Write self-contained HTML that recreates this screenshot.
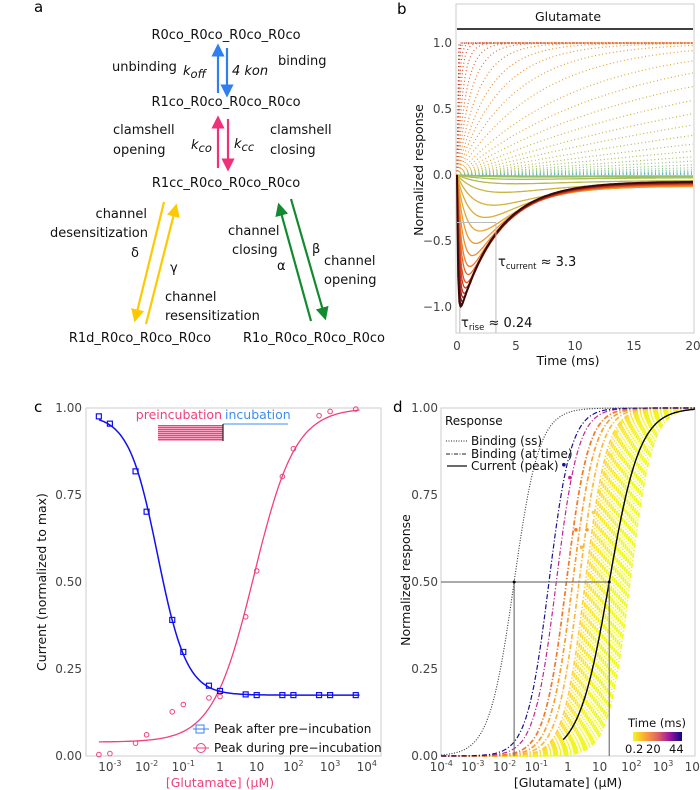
<!DOCTYPE html>
<html><head><meta charset="utf-8">
<style>
html,body{margin:0;padding:0;background:#fff;}
svg{display:block;font-family:"DejaVu Sans","Liberation Sans",sans-serif;}
.t{font-size:13px;fill:#111;}
.tk{font-size:12px;fill:#444;}
.ax{font-size:12.5px;fill:#111;}
</style></head><body>
<svg id="fig" width="700" height="790" viewBox="0 0 700 790" xmlns="http://www.w3.org/2000/svg">
<defs>
<marker id="ah-blue" markerWidth="6" markerHeight="6" refX="3" refY="3" orient="auto"><path d="M0,0 L6,3 L0,6 z" fill="#2f7ff0"/></marker>
<marker id="ah-pink" markerWidth="6" markerHeight="6" refX="3" refY="3" orient="auto"><path d="M0,0 L6,3 L0,6 z" fill="#f0307a"/></marker>
<marker id="ah-yel" markerWidth="6" markerHeight="6" refX="3" refY="3" orient="auto"><path d="M0,0 L6,3 L0,6 z" fill="#ffc800"/></marker>
<marker id="ah-grn" markerWidth="6" markerHeight="6" refX="3" refY="3" orient="auto"><path d="M0,0 L6,3 L0,6 z" fill="#148a30"/></marker>
<linearGradient id="cbar" x1="0" x2="1" y1="0" y2="0">
<stop offset="0" stop-color="#f0f921"/><stop offset="0.25" stop-color="#fca636"/><stop offset="0.5" stop-color="#e16462"/><stop offset="0.75" stop-color="#9c179e"/><stop offset="1" stop-color="#0d0887"/>
</linearGradient>
</defs>

<!-- Panel a -->
<g>
<text x="34" y="12" style="font-size:15px">a</text>
<text class="t" x="226" y="39" text-anchor="middle">R0co_R0co_R0co_R0co</text>
<text class="t" x="226" y="106" text-anchor="middle">R1co_R0co_R0co_R0co</text>
<text class="t" x="226" y="187" text-anchor="middle">R1cc_R0co_R0co_R0co</text>
<text class="t" x="140" y="342" text-anchor="middle">R1d_R0co_R0co_R0co</text>
<text class="t" x="314" y="342" text-anchor="middle">R1o_R0co_R0co_R0co</text>
<line x1="218" y1="93" x2="218" y2="50" stroke="#2f7ff0" stroke-width="2.2" marker-end="url(#ah-blue)"/>
<line x1="227" y1="48" x2="227" y2="91" stroke="#2f7ff0" stroke-width="2.2" marker-end="url(#ah-blue)"/>
<text class="t" x="112" y="71">unbinding</text>
<text class="t" x="183" y="75" font-style="italic">k<tspan dy="3" font-size="11.5">off</tspan></text>
<text class="t" x="232" y="75" font-style="italic">4 kon</text>
<text class="t" x="278" y="65">binding</text>
<line x1="218" y1="168" x2="218" y2="122" stroke="#f0307a" stroke-width="2.2" marker-end="url(#ah-pink)"/>
<line x1="228" y1="119" x2="228" y2="165" stroke="#f0307a" stroke-width="2.2" marker-end="url(#ah-pink)"/>
<text class="t" x="113" y="134">clamshell</text>
<text class="t" x="113" y="154">opening</text>
<text class="t" x="191" y="149" font-style="italic">k<tspan dy="3" font-size="11.5">co</tspan></text>
<text class="t" x="234" y="148" font-style="italic">k<tspan dy="3" font-size="11.5">cc</tspan></text>
<text class="t" x="270" y="134">clamshell</text>
<text class="t" x="270" y="154">closing</text>
<line x1="164" y1="202" x2="136" y2="316" stroke="#ffc800" stroke-width="2.2" marker-end="url(#ah-yel)"/>
<line x1="146" y1="324" x2="175" y2="210" stroke="#ffc800" stroke-width="2.2" marker-end="url(#ah-yel)"/>
<text class="t" x="147" y="218" text-anchor="end">channel</text>
<text class="t" x="148" y="237" text-anchor="end">desensitization</text>
<text class="t" x="131" y="257">δ</text>
<text class="t" x="170" y="272">γ</text>
<text class="t" x="165" y="301">channel</text>
<text class="t" x="165" y="320">resensitization</text>
<line x1="311" y1="321" x2="280" y2="209" stroke="#148a30" stroke-width="2.2" marker-end="url(#ah-grn)"/>
<line x1="291" y1="199" x2="324" y2="314" stroke="#148a30" stroke-width="2.2" marker-end="url(#ah-grn)"/>
<text class="t" x="228" y="235">channel</text>
<text class="t" x="232" y="254">closing</text>
<text class="t" x="277" y="270">α</text>
<text class="t" x="312" y="253">β</text>
<text class="t" x="324" y="265">channel</text>
<text class="t" x="324" y="284">opening</text>
</g>

<!-- Panel b frame -->
<g>
<text x="397" y="14" style="font-size:15px">b</text>
<rect x="456" y="4" width="238" height="329" fill="none" stroke="#ccc"/>
<line x1="457" y1="29" x2="693" y2="29" stroke="#000" stroke-width="1.5"/>
<text class="ax" x="568" y="21" text-anchor="middle">Glutamate</text>
<g id="b-curves"></g>
<g id="b-axes"></g>
<text class="ax" x="568" y="365" text-anchor="middle">Time (ms)</text>
<text class="ax" transform="translate(423,170) rotate(-90)" text-anchor="middle">Normalized response</text>
</g>

<!-- Panel c frame -->
<g>
<text x="34" y="412" style="font-size:15px">c</text>
<rect x="86" y="408" width="295" height="348" fill="none" stroke="#ccc"/>
<g id="c-marks"></g>
<g id="c-axes"></g>
<text x="222" y="419" text-anchor="end" style="font-size:12.5px;fill:#f0407f">preincubation</text>
<text x="225" y="419" style="font-size:12.5px;fill:#3f8ef0">incubation</text>
<line x1="223" y1="424" x2="288" y2="424" stroke="#3f8ef0" stroke-width="1"/>
<rect x="158" y="425" width="65" height="16" fill="#fbd0de"/>
<g id="preinc"></g>
<line x1="223" y1="424" x2="223" y2="441" stroke="#222" stroke-width="1.2"/>
<g>
<line x1="193" y1="729" x2="209" y2="729" stroke="#3b82f6"/>
<rect x="196" y="725" width="8" height="8" fill="none" stroke="#3b82f6"/>
<text x="214" y="733" style="font-size:12px;fill:#111">Peak after pre−incubation</text>
<line x1="193" y1="748" x2="209" y2="748" stroke="#f0407f"/>
<circle cx="201" cy="748" r="4.5" fill="none" stroke="#f0407f"/>
<text x="214" y="752" style="font-size:12px;fill:#111">Peak during pre−incubation</text>
</g>
<text x="220" y="787" text-anchor="middle" style="font-size:12.5px;fill:#f0407f">[Glutamate] (μM)</text>
<text class="ax" transform="translate(46,582) rotate(-90)" text-anchor="middle">Current (normalized to max)</text>
</g>

<!-- Panel d frame -->
<g>
<text x="393" y="412" style="font-size:15px">d</text>
<rect x="441" y="408" width="254" height="348" fill="none" stroke="#ccc"/>
<g id="d-marks"></g>
<g id="d-axes"></g>
<g>
<text x="445" y="425" style="font-size:12px;fill:#111">Response</text>
<line x1="446" y1="441" x2="467" y2="441" stroke="#222" stroke-dasharray="1 1.5"/>
<text x="471" y="445" style="font-size:12px;fill:#111">Binding (ss)</text>
<line x1="446" y1="454" x2="467" y2="454" stroke="#222" stroke-dasharray="4 1.5 1 1.5"/>
<text x="471" y="458" style="font-size:12px;fill:#111">Binding (at time)</text>
<line x1="447" y1="466" x2="467" y2="466" stroke="#111" stroke-width="1.3"/>
<text x="471" y="470" style="font-size:12px;fill:#111">Current (peak)</text>
</g>
<g>
<text x="657" y="727" text-anchor="middle" style="font-size:11.5px;fill:#111">Time (ms)</text>
<rect x="633" y="732" width="49" height="9" fill="url(#cbar)"/>
<text x="625" y="753" style="font-size:11.5px;fill:#111">0.2</text>
<text x="646" y="753" style="font-size:11.5px;fill:#111">20</text>
<text x="669" y="753" style="font-size:11.5px;fill:#111">44</text>
</g>
<text x="568" y="787" text-anchor="middle" class="ax">[Glutamate] (μM)</text>
<text class="ax" transform="translate(410,580) rotate(-90)" text-anchor="middle">Normalized response</text>
</g>
</svg>

<script>
// ---------- Panel b data ----------
const bCurrentPeaks = [1.0, 0.98, 0.96, 0.93, 0.9, 0.86, 0.82, 0.76, 0.7, 0.62, 0.53, 0.44, 0.34, 0.25, 0.15, 0.08, 0.04, 0.02, 0.01];
const bCurrentRiseTaus = [0.08, 0.1, 0.13, 0.16, 0.2, 0.25, 0.3, 0.38, 0.46, 0.6, 0.8, 1.1, 1.5, 2.2, 3.0, 4.0, 5.0, 6.0, 7.0];
const bCurrentTail = [0.05, 0.05, 0.055, 0.06, 0.06, 0.065, 0.07, 0.07, 0.075, 0.08, 0.08, 0.085, 0.085, 0.08, 0.06, 0.04, 0.02, 0.012, 0.006];
const bBindingTaus = [0.03, 0.06, 0.1, 0.18, 0.3, 0.5, 0.8, 1.2, 1.8, 2.6, 3.6, 5, 7, 10, 13.5, 18, 24, 32, 42, 56, 75, 100, 135, 180, 250, 350, 500, 750, 1100, 1700, 2600, 4000];
const bXTicks = [0, 5, 10, 15, 20];
const bYTicks = [1.0, 0.5, 0.0, -0.5, -1.0];
const bYTickLabels = ["1.0", "0.5", "0.0", "−0.5", "−1.0"];

// ---------- Panel c data ----------
const cConc = [5e-4, 1e-3, 5e-3, 1e-2, 5e-2, 0.1, 0.5, 1, 5, 10, 50, 100, 500, 1000, 5000];
const cAfter = [0.976, 0.955, 0.818, 0.702, 0.391, 0.299, 0.202, 0.187, 0.177, 0.175, 0.175, 0.175, 0.175, 0.175, 0.175];
const cDuring = [0.004, 0.007, 0.037, 0.061, 0.127, 0.148, 0.167, 0.171, 0.40, 0.532, 0.803, 0.883, 0.978, 0.99, 0.997];
const cAfterFit = [0.98, 0.175, 0.02, 1.1];   // top, bottom, IC50, hill
const cDuringFit = [0.04, 1.0, 8.5, 0.77];    // bottom, top, EC50, hill
const cXTickExp = [-3, -2, -1, 0, 1, 2, 3, 4];
const cYTicks = [0, 0.25, 0.5, 0.75, 1.0];
const cYTickLabels = ["0.00", "0.25", "0.50", "0.75", "1.00"];

// ---------- Panel d data ----------
const dBindingSSFit = [0.02, 1.1];
const dBindingTimeLogEC50 = [-0.6, -0.37, -0.05, 0.15, 0.35, 0.55, 0.62, 0.69, 0.76, 0.83, 0.9, 0.97, 1.04, 1.11, 1.18, 1.25, 1.32, 1.39, 1.46, 1.53, 1.6, 1.67, 1.74, 1.81, 1.88, 1.95];
const dBindingTimeColors = ["#1a0f8f", "#c0288a", "#f07a2a", "#f8a030", "#fbb93a", "#fcd03c", "#fbdc36", "#fae232", "#f9e62e", "#f8e82c", "#f7ea2a", "#f6ec28", "#f5ee26", "#f4f024", "#f3f222", "#f2f321", "#f1f420", "#f1f520", "#f0f620", "#f0f720", "#f0f720", "#f0f820", "#f0f821", "#f0f921", "#f0f921", "#f0f921"];
const dCurrentFit = [20, 0.9];
const dDotLog = [-0.13, 0.06, 0.25, 0.43, 0.6, 0.8, 0.98, 1.17, 1.35, 1.52, 1.7];
const dDotVal = [0.837, 0.80, 0.65, 0.60, 0.65, 0.70, 0.76, 0.81, 0.865, 0.93, 0.96];
const dDotColors = ["#1a0f8f", "#c0288a", "#f07a2a", "#fbb93a", "#f8a030", "#fcd03c", "#fbdc36", "#f9e62e", "#f6ec28", "#f3f222", "#f0f620"];
const dXTickExp = [-4, -3, -2, -1, 0, 1, 2, 3, 4];
const dYTicks = [0, 0.25, 0.5, 0.75, 1.0];
const dYTickLabels = ["0.00", "0.25", "0.50", "0.75", "1.00"];

const NS = "http://www.w3.org/2000/svg";
function mk(parent, tag, attrs) {
  const el = document.createElementNS(NS, tag);
  for (const k in attrs) el.setAttribute(k, attrs[k]);
  parent.appendChild(el);
  return el;
}
function lerpColor(stops, f) {
  f = Math.max(0, Math.min(1, f));
  const n = stops.length - 1, i = Math.min(n - 1, Math.floor(f * n)), u = f * n - i;
  const a = stops[i], b = stops[i + 1];
  const p = (h, s) => parseInt(h.substr(s, 2), 16);
  const c = [1, 3, 5].map(s => Math.round(p(a, s) + (p(b, s) - p(a, s)) * u));
  return "rgb(" + c.join(",") + ")";
}
const bStops = ["#3b0a08", "#a8201a", "#e0481e", "#f2862a", "#e8a830", "#c8b640", "#9cc060", "#74c29a", "#5cb4c8"];

// ---------- Panel b ----------
const bx = t => 457 + t * 11.8;
const by = v => 175 - v * 132;
const gB = document.getElementById("b-curves");
bBindingTaus.forEach((tau, i) => {
  let d = "";
  for (let k = 0; k <= 120; k++) {
    const t = 20 * k / 120;
    const v = 1 - Math.exp(-t / tau);
    d += (k ? "L" : "M") + bx(t).toFixed(1) + "," + by(v).toFixed(1);
  }
  const el = mk(gB, "path", { d: d, fill: "none", stroke: lerpColor(bStops, 0.15 + 0.85 * i / (bBindingTaus.length - 1)), "stroke-width": 1.2, "stroke-dasharray": "1 2.6" });
  
  
});
for (let i = bCurrentPeaks.length - 1; i >= 0; i--) {
  const P = bCurrentPeaks[i], tr = bCurrentRiseTaus[i], td = 3.3, ss = bCurrentTail[i];
  const tp = tr * td / (td - tr) * Math.log(td / tr);
  const shape = t => Math.exp(-t / td) - Math.exp(-t / tr);
  const norm = shape(tp);
  let d = "";
  for (let k = 0; k <= 200; k++) {
    const t = 20 * k / 200;
    const rise = 1 - Math.exp(-t / tr);
    const v = -(P - ss) * shape(t) / norm - ss * rise;
    d += (k ? "L" : "M") + bx(t).toFixed(1) + "," + by(v).toFixed(1);
  }
  const el = mk(gB, "path", { d: d, fill: "none", stroke: lerpColor(bStops, i / (bCurrentPeaks.length - 1) * 0.8), "stroke-width": i === 0 ? 2 : 1.3 });
  
  
}
const gBA = document.getElementById("b-axes");
{
  let el = mk(gBA, "path", { d: `M${bx(0.24)},${by(-1)}V333 M${bx(3.3)},${by(-0.36)}V333 M457,${by(-0.36)}H${bx(3.3)}`, stroke: "#bbb", fill: "none", "stroke-width": 1 });
  
  
  el = mk(gBA, "text", { x: 498, y: 266, "font-size": 13, fill: "#111" });
  el.innerHTML = 'τ<tspan font-size="8.5" dy="3">current</tspan><tspan dy="-3"> ≈ 3.3</tspan>';
  
  
  el = mk(gBA, "text", { x: 461, y: 327, "font-size": 13, fill: "#111" });
  el.innerHTML = 'τ<tspan font-size="8.5" dy="3">rise</tspan><tspan dy="-3"> ≈ 0.24</tspan>';
  
  
}
bXTicks.forEach(t => {
  const el = mk(gBA, "text", { x: bx(t), y: 350, "text-anchor": "middle", class: "tk" });
  el.textContent = String(t);
  
  
});
bYTicks.forEach((v, i) => {
  const el = mk(gBA, "text", { x: 452, y: by(v) + 4, "text-anchor": "end", class: "tk" });
  el.textContent = bYTickLabels[i];
  
  
});

// ---------- Panel c ----------
const cx = c => 220 + 36.7 * Math.log10(c);
const cy = v => 756 - v * 348;
const gC = document.getElementById("c-marks");
for (let k = 0; k < 8; k++) {
  const el = mk(document.getElementById("preinc"), "rect", { x: 158, y: 425 + k * 2, width: 65, height: 1.3, fill: "#f0407f" });
  
  
}
{
  let dA = "", dD = "";
  for (let k = 0; k <= 200; k++) {
    const lg = -3.3 + 7.1 * k / 200, c = Math.pow(10, lg);
    const a = cAfterFit[1] + (cAfterFit[0] - cAfterFit[1]) / (1 + Math.pow(c / cAfterFit[2], cAfterFit[3]));
    const r = Math.pow(c / cDuringFit[2], cDuringFit[3]);
    const b = cDuringFit[0] + (cDuringFit[1] - cDuringFit[0]) * r / (1 + r);
    dA += (k ? "L" : "M") + cx(c).toFixed(1) + "," + cy(a).toFixed(1);
    dD += (k ? "L" : "M") + cx(c).toFixed(1) + "," + cy(Math.min(b, 1)).toFixed(1);
  }
  let el = mk(gC, "path", { d: dD, fill: "none", stroke: "#f0407f", "stroke-width": 1.3 });
  
  
  el = mk(gC, "path", { d: dA, fill: "none", stroke: "#1010f0", "stroke-width": 1.5 });
  
  
}
cConc.forEach((c, i) => {
  let el = mk(gC, "rect", { x: cx(c) - 2.5, y: cy(cAfter[i]) - 2.5, width: 5, height: 5, fill: "none", stroke: "#1010f0", "stroke-width": 1.2 });
  
  
  el = mk(gC, "circle", { cx: cx(c), cy: cy(cDuring[i]), r: 2.3, fill: "none", stroke: "#f0407f", "stroke-width": 1 });
  
  
});
const gCA = document.getElementById("c-axes");
cXTickExp.forEach(e => {
  const el = mk(gCA, "text", { x: cx(Math.pow(10, e)), y: 771, "text-anchor": "middle", class: "tk" });
  if (e === 0) el.textContent = "1";
  else if (e === 1) el.textContent = "10";
  else el.innerHTML = '10<tspan font-size="8" dy="-5">' + e + '</tspan>';
  
  
});
cYTicks.forEach((v, i) => {
  const el = mk(gCA, "text", { x: 82, y: cy(v) + 4, "text-anchor": "end", class: "tk" });
  el.textContent = cYTickLabels[i];
  
  
});

// ---------- Panel d ----------
const dx = lg => 568 + 31.7 * lg;
const dy = v => 756 - v * 348;
const gD = document.getElementById("d-marks");
function hillPath(ec50log, n, lo, hi) {
  let d = "";
  for (let k = 0; k <= 200; k++) {
    const lg = lo + (hi - lo) * k / 200;
    const v = 1 / (1 + Math.pow(10, (ec50log - lg) * n));
    d += (k ? "L" : "M") + dx(lg).toFixed(1) + "," + dy(v).toFixed(1);
  }
  return d;
}
for (let i = dBindingTimeLogEC50.length - 1; i >= 0; i--) {
  const el = mk(gD, "path", { d: hillPath(dBindingTimeLogEC50[i], 1.25, -4, 4), fill: "none", stroke: dBindingTimeColors[i], "stroke-width": i < 2 ? 1.2 : 1.7, "stroke-dasharray": "5 2 1.2 2" });
  
  
}
{
  let el = mk(gD, "path", { d: hillPath(Math.log10(dBindingSSFit[0]), dBindingSSFit[1], -4, 4), fill: "none", stroke: "#333", "stroke-width": 1.1, "stroke-dasharray": "1 1.6" });
  
  
  el = mk(gD, "path", { d: hillPath(Math.log10(dCurrentFit[0]), dCurrentFit[1], -0.15, 4), fill: "none", stroke: "#000", "stroke-width": 1.4 });
  
  
  const xs = dx(Math.log10(dBindingSSFit[0])), xc = dx(Math.log10(dCurrentFit[0]));
  el = mk(gD, "path", { d: `M441,${dy(0.5)}H${xc} M${xs},${dy(0.5)}V756 M${xc},${dy(0.5)}V756`, stroke: "#777", fill: "none", "stroke-width": 1.2 });
  
  
  el = mk(gD, "circle", { cx: xs, cy: dy(0.5), r: 1.5, fill: "#000" });
  
  
  el = mk(gD, "circle", { cx: xc, cy: dy(0.5), r: 1.5, fill: "#000" });
  
  
}
dDotLog.forEach((lg, i) => {
  const el = mk(gD, "circle", { cx: dx(lg), cy: dy(dDotVal[i]), r: 1.8, fill: dDotColors[i] });
  
  
});
const gDA = document.getElementById("d-axes");
dXTickExp.forEach(e => {
  const el = mk(gDA, "text", { x: dx(e), y: 771, "text-anchor": "middle", class: "tk" });
  if (e === 0) el.textContent = "1";
  else if (e === 1) el.textContent = "10";
  else el.innerHTML = '10<tspan font-size="8" dy="-5">' + e + '</tspan>';
  
  
});
dYTicks.forEach((v, i) => {
  const el = mk(gDA, "text", { x: 438, y: dy(v) + 4, "text-anchor": "end", class: "tk" });
  el.textContent = dYTickLabels[i];
  
  
});
</script>
</body></html>
